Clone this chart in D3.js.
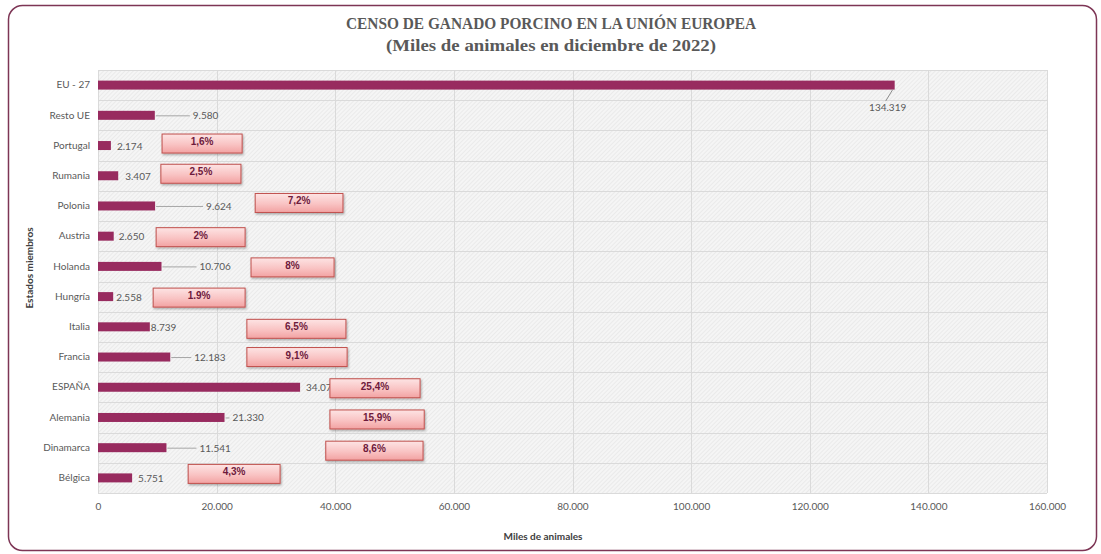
<!DOCTYPE html>
<html>
<head>
<meta charset="utf-8">
<script src="https://cdn.jsdelivr.net/npm/d3@7/dist/d3.min.js"></script>
<style>
    body { margin: 0; background: #fff; }
    svg { display: block; }
    .tick text { font-family: Lato, 'Open Sans', sans-serif; fill: #595959; }
</style>
</head>
<body>
<svg id="chart"></svg>
<script>
const width = 1101;
const height = 554;

const titleLines = [
    'CENSO DE GANADO PORCINO EN LA UNIÓN EUROPEA',
    '(Miles de animales en diciembre de 2022)'
];
const titleWidths = [410, 330];

const countries = [
    'EU - 27', 'Resto UE', 'Portugal', 'Rumania', 'Polonia', 'Austria', 'Holanda',
    'Hungría', 'Italia', 'Francia', 'ESPAÑA', 'Alemania', 'Dinamarca', 'Bélgica'
];
const heads = [
    134319, 9580, 2174, 3407, 9624, 2650, 10706,
    2558, 8739, 12183, 34070, 21330, 11541, 5751
];
const shares = [
    null, null, '1,6%', '2,5%', '7,2%', '2%', '8%',
    '1.9%', '6,5%', '9,1%', '25,4%', '15,9%', '8,6%', '4,3%'
];
// where the share boxes sit, in miles de animales (start, end)
const shareBoxFrom = [
    null, null, 10800, 10600, 26500, 9800, 25800,
    9300, 25100, 25100, 39100, 39100, 38400, 15200
];
const shareBoxTo = [
    null, null, 24300, 24100, 41300, 24800, 39800,
    24800, 41800, 42000, 54300, 55000, 54800, 30700
];
const xTicks = [0, 20000, 40000, 60000, 80000, 100000, 120000, 140000, 160000];

// label offsets (px) from the bar end, and share box vertical nudges
const labelDx = [0, 38, 6, 7, 51, 5, 38, 3, 1, 24, 6, 8, 33, 6];
const boxDy = [0, 0, -2, -2, -3, 1, 1, 1, 2, 0, 1, 2, 3, -4];

const fmt = d3.formatLocale({ decimal: ',', thousands: '.', grouping: [3], currency: ['', '€'] }).format(',d');

const margin = { top: 70, right: 54, bottom: 61, left: 98 };
const barColor = '#982b5f';
const greyText = '#595959';

const svg = d3.select('#chart')
    .attr('width', width)
    .attr('height', height);

const defs = svg.append('defs');

const hatch = defs.append('pattern')
    .attr('id', 'hatch')
    .attr('patternUnits', 'userSpaceOnUse')
    .attr('width', 3)
    .attr('height', 3)
    .attr('patternTransform', 'rotate(45)');
hatch.append('rect')
    .attr('width', 3).attr('height', 3)
    .attr('fill', '#f5f5f5');
hatch.append('line')
    .attr('x1', 0).attr('y1', 0).attr('x2', 0).attr('y2', 3)
    .attr('stroke', '#e4e4e4')
    .attr('stroke-width', 1.2);

const grad = defs.append('linearGradient')
    .attr('id', 'boxFill')
    .attr('x1', 0).attr('y1', 0).attr('x2', 0).attr('y2', 1);
grad.append('stop').attr('offset', '0%').attr('stop-color', '#fde4e4');
grad.append('stop').attr('offset', '55%').attr('stop-color', '#f9c3c3');
grad.append('stop').attr('offset', '100%').attr('stop-color', '#f2a2a2');

const shadow = defs.append('filter')
    .attr('id', 'shadow')
    .attr('x', '-10%').attr('y', '-20%')
    .attr('width', '130%').attr('height', '160%');
shadow.append('feDropShadow')
    .attr('dx', 1).attr('dy', 1.5)
    .attr('stdDeviation', 1)
    .attr('flood-color', '#000')
    .attr('flood-opacity', 0.3);

// outer frame
svg.append('rect')
    .attr('x', 8.5).attr('y', 5.5)
    .attr('width', 1088).attr('height', 545)
    .attr('rx', 14)
    .attr('fill', '#fff')
    .attr('stroke', '#7d3555')
    .attr('stroke-width', 1.5);

svg.append('g')
    .selectAll('text')
    .data(titleLines)
    .enter()
    .append('text')
    .attr('x', 551)
    .attr('y', (d, i) => 29 + i * 22)
    .attr('text-anchor', 'middle')
    .attr('textLength', (d, i) => titleWidths[i])
    .attr('lengthAdjust', 'spacingAndGlyphs')
    .attr('fill', greyText)
    .style('font-family', "'Liberation Serif', serif")
    .style('font-weight', 'bold')
    .style('font-size', '17.5px')
    .text(d => d);

const xScale = d3.scaleLinear()
    .domain([0, 160000])
    .range([margin.left, width - margin.right]);

const yScale = d3.scaleBand()
    .domain(countries)
    .range([margin.top, height - margin.bottom]);

const barH = 9;
const rowMid = c => yScale(c) + yScale.bandwidth() / 2;

// plot background
svg.append('rect')
    .attr('x', xScale(0))
    .attr('y', margin.top)
    .attr('width', xScale(160000) - xScale(0))
    .attr('height', height - margin.bottom - margin.top)
    .attr('fill', 'url(#hatch)');

const grid = svg.append('g').attr('stroke', '#dadada').attr('stroke-width', 1);
grid.selectAll('line.v')
    .data(xTicks)
    .enter()
    .append('line')
    .attr('class', 'v')
    .attr('x1', d => Math.round(xScale(d)) + 0.5)
    .attr('x2', d => Math.round(xScale(d)) + 0.5)
    .attr('y1', margin.top)
    .attr('y2', height - margin.bottom);
grid.selectAll('line.h')
    .data(countries.concat(['end']))
    .enter()
    .append('line')
    .attr('class', 'h')
    .attr('x1', xScale(0))
    .attr('x2', xScale(160000))
    .attr('y1', (d, i) => Math.round(margin.top + i * yScale.step()) + 0.5)
    .attr('y2', (d, i) => Math.round(margin.top + i * yScale.step()) + 0.5);

// x axis
const xAxis = d3.axisBottom(xScale)
    .tickValues(xTicks)
    .tickSize(0)
    .tickPadding(10)
    .tickFormat(d => fmt(d));
const xAxisGroup = svg.append('g')
    .attr('transform', `translate(0, ${height - margin.bottom})`)
    .call(xAxis);
xAxisGroup.select('.domain').remove();
xAxisGroup.selectAll('text').style('font-size', '10px');

// y axis
const yAxis = d3.axisLeft(yScale).tickSize(0).tickPadding(8);
const yAxisGroup = svg.append('g')
    .attr('transform', `translate(${margin.left}, 0)`)
    .call(yAxis);
yAxisGroup.select('.domain').remove();
yAxisGroup.selectAll('text').style('font-size', '10px');

// bars
svg.append('g')
    .selectAll('rect')
    .data(countries)
    .enter()
    .append('rect')
    .attr('x', xScale(0))
    .attr('y', d => rowMid(d) - barH / 2)
    .attr('width', (d, i) => xScale(heads[i]) - xScale(0))
    .attr('height', barH)
    .attr('fill', barColor);

// value labels with leader lines
const labels = svg.append('g');
countries.forEach((c, i) => {
    const end = xScale(heads[i]);
    if (i === 0) {
        labels.append('line')
            .attr('x1', end - 2).attr('y1', rowMid(c) + barH / 2)
            .attr('x2', end - 9).attr('y2', rowMid(c) + 16)
            .attr('stroke', '#8c8c8c');
        labels.append('text')
            .attr('x', end - 7)
            .attr('y', rowMid(c) + 26)
            .attr('text-anchor', 'middle')
            .attr('fill', greyText)
            .style('font-family', 'Lato, sans-serif')
            .style('font-size', '10px')
            .text(fmt(heads[i]));
        return;
    }
    const tx = end + labelDx[i];
    if (labelDx[i] >= 8) {
        labels.append('line')
            .attr('x1', end + 1).attr('y1', rowMid(c) + 0.5)
            .attr('x2', tx - 3).attr('y2', rowMid(c) + 0.5)
            .attr('stroke', '#a6a6a6');
    }
    labels.append('text')
        .attr('x', tx)
        .attr('y', rowMid(c) + 4)
        .attr('fill', greyText)
        .style('font-family', 'Lato, sans-serif')
        .style('font-size', '10px')
        .text(fmt(heads[i]));
});

// share boxes
const boxes = svg.append('g');
countries.forEach((c, i) => {
    if (!shares[i]) return;
    const bx = xScale(shareBoxFrom[i]);
    const bw = xScale(shareBoxTo[i]) - bx;
    const bh = 19;
    const by = rowMid(c) - bh / 2 + boxDy[i];
    boxes.append('rect')
        .attr('x', bx).attr('y', by)
        .attr('width', bw).attr('height', bh)
        .attr('fill', 'url(#boxFill)')
        .attr('stroke', '#c0504d')
        .attr('stroke-width', 1)
        .attr('filter', 'url(#shadow)');
    boxes.append('text')
        .attr('x', bx + bw / 2)
        .attr('y', by + 11)
        .attr('text-anchor', 'middle')
        .attr('fill', '#6e1a3c')
        .style('font-family', "'Liberation Sans', Arial, sans-serif")
        .style('font-weight', 'bold')
        .style('font-size', '10px')
        .text(shares[i]);
});

// axis titles
svg.append('text')
    .attr('x', 543)
    .attr('y', 540)
    .attr('text-anchor', 'middle')
    .attr('fill', '#404040')
    .style('font-family', 'Lato, sans-serif')
    .style('font-weight', 'bold')
    .style('font-size', '10px')
    .text('Miles de animales');

svg.append('text')
    .attr('transform', 'translate(33, 268) rotate(-90)')
    .attr('text-anchor', 'middle')
    .attr('fill', '#404040')
    .style('font-family', 'Lato, sans-serif')
    .style('font-weight', 'bold')
    .style('font-size', '10px')
    .text('Estados miembros');
</script>
</body>
</html>
